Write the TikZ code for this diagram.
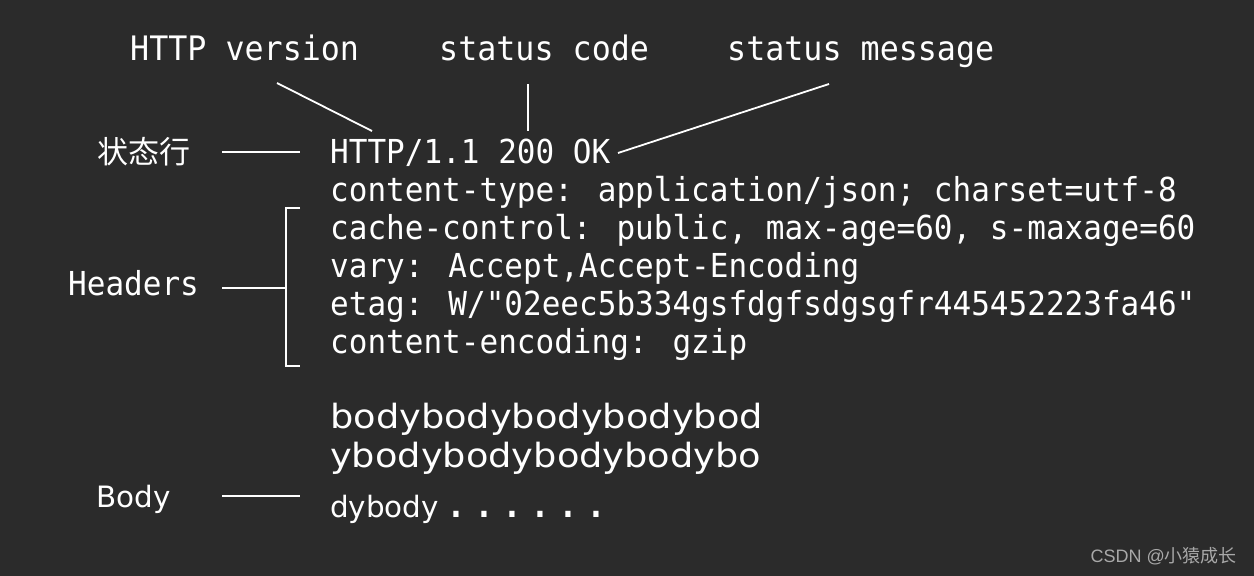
\documentclass[tikz,border=0pt]{standalone}
\usepackage{fontspec}
\setmainfont{DejaVu Sans}
\newfontfamily\monof[FakeStretch=0.94]{DejaVu Sans Mono}
\newfontfamily\bodyf[FakeStretch=1.1]{DejaVu Sans}
\newfontfamily\cjkf{Noto Sans CJK SC}
\newfontfamily\wmf{Liberation Sans}
\definecolor{bgc}{HTML}{2B2B2B}
\definecolor{fgc}{HTML}{FFFFFF}
\definecolor{wmc}{HTML}{A8A8A8}
\newcommand{\bdot}{\makebox[28pt][c]{\fontsize{50}{50}\selectfont .}}
\tikzset{
  codetxt/.style={anchor=base west, inner sep=0pt, text=fgc, font=\monof\fontsize{33}{38}\selectfont},
  toptxt/.style={anchor=base west, inner sep=0pt, text=fgc, font=\monof\fontsize{33.7}{38}\selectfont},
  cjktxt/.style={anchor=base west, inner sep=0pt, text=fgc, font=\cjkf\fontsize{31}{38}\selectfont},
  bodytxt/.style={anchor=base west, inner sep=0pt, text=fgc, font=\bodyf\fontsize{33.4}{40}\selectfont},
  bodysmall/.style={anchor=base west, inner sep=0pt, text=fgc, font=\fontsize{29.4}{36}\selectfont},
  wline/.style={draw=fgc, line width=1.8pt},
}
\begin{document}
\begin{tikzpicture}[x=1pt,y=-1pt]
\useasboundingbox (0,0) rectangle (1254,576);
\fill[bgc] (0,0) rectangle (1254,576);

% top labels
\node[toptxt] (ver) at (130,60) {HTTP version};
\node[toptxt] (code) at (439,60) {status code};
\node[toptxt] (msg) at (727,60) {status message};

% left labels
\node[cjktxt] (sl) at (97,163) {状态行};
\node[codetxt] (hd) at (68,295) {Headers};
\node[bodysmall] (bd) at (96,507) {Body};

% status line and headers
\node[codetxt] (l1) at (330,163) {HTTP/1.1 200 OK};
\node[codetxt] (l2) at (330,201) {content-type: application/json; charset=utf-8};
\node[codetxt] (l3) at (330,239) {cache-control: public, max-age=60, s-maxage=60};
\node[codetxt] (l4) at (330,277) {vary: Accept,Accept-Encoding};
\node[codetxt] (l5) at (330,315) {etag: W/"02eec5b334gsfdgfsdgsgfr445452223fa46"};
\node[codetxt] (l6) at (330,353) {content-encoding: gzip};

% body
\node[bodytxt] (b1) at (330,428) {bodybodybodybodybod};
\node[bodytxt] (b2) at (330,467) {ybodybodybodybodybo};
\node[bodysmall] (b3) at (330,517) {dybody\hspace{3pt}\bdot\bdot\bdot\bdot\bdot\bdot};

% watermark
\node[anchor=base east, inner sep=0pt, text=wmc] (wm) at (1237,562) {\fontsize{18}{20}\selectfont\wmf CSDN @\cjkf 小猿成长};

% connector end points
\coordinate (verA) at (277,83);
\coordinate (verB) at (372,131);
\coordinate (codeA) at (528,84);
\coordinate (codeB) at (528,131);
\coordinate (msgA) at (829,84);
\coordinate (msgB) at (618,153);
\coordinate (slA) at (222,152);
\coordinate (slB) at (300,152);
\coordinate (hdA) at (222,288);
\coordinate (hdB) at (286,288);
\coordinate (brT) at (300,208);
\coordinate (brB) at (300,366);
\coordinate (bdA) at (222,496);
\coordinate (bdB) at (300,496);

\draw[wline] (verA) -- (verB);
\draw[wline] (codeA) -- (codeB);
\draw[wline] (msgA) -- (msgB);
\draw[wline] (slA) -- (slB);
\draw[wline] (hdA) -- (hdB);
\draw[wline] (brT) -- (brT -| hdB) -- (brB -| hdB) -- (brB);
\draw[wline] (bdA) -- (bdB);
\end{tikzpicture}
\end{document}
